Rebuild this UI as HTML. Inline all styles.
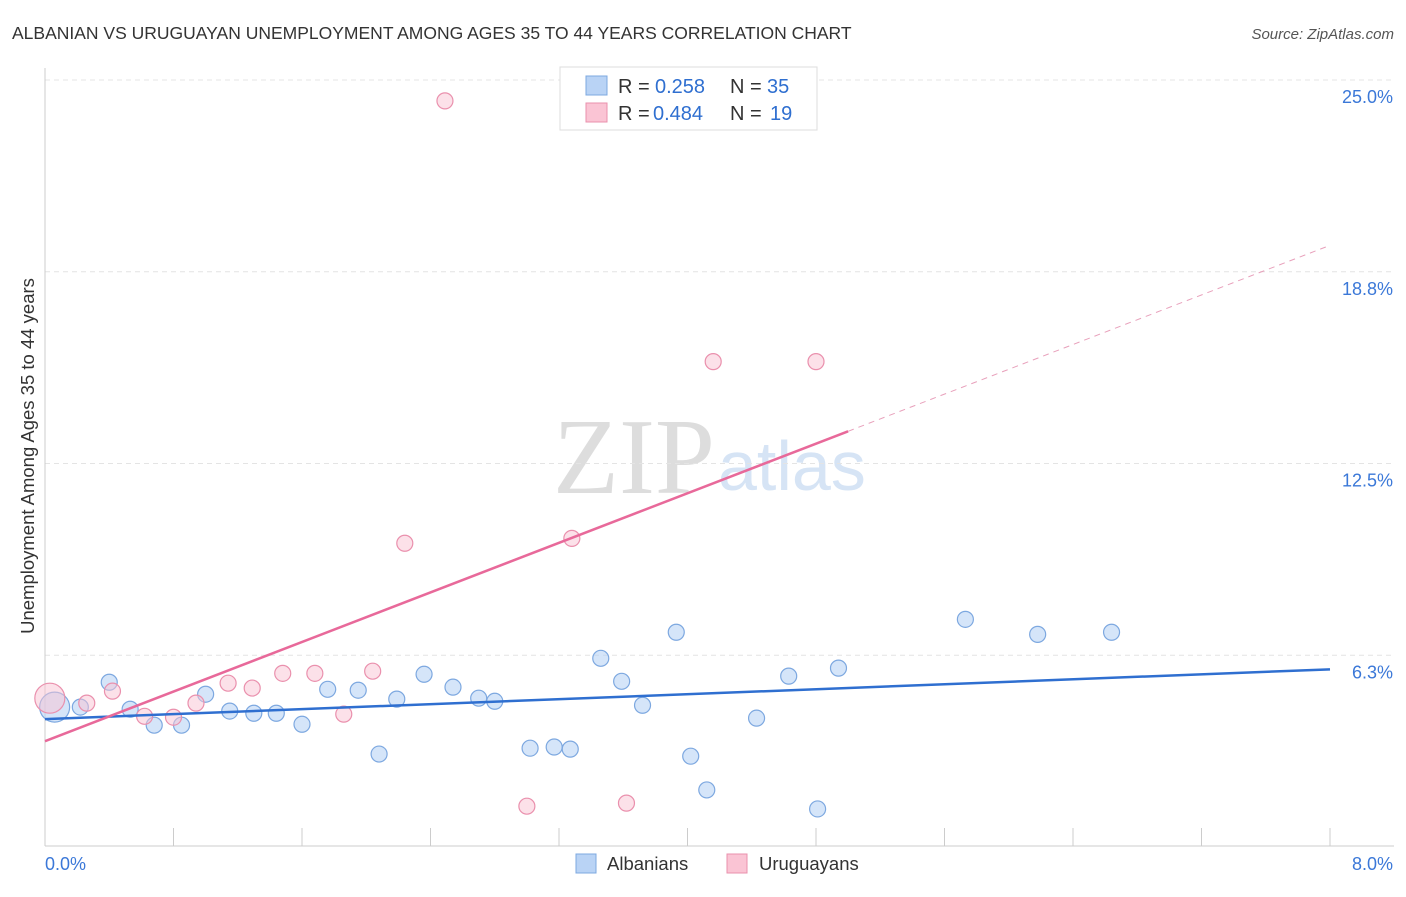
<!DOCTYPE html>
<html><head><meta charset="utf-8"><style>
body{margin:0;background:#fff;font-family:"Liberation Sans",sans-serif;}
svg text{font-family:"Liberation Sans",sans-serif;}
</style></head><body>
<svg id="chart" width="1406" height="892" xmlns="http://www.w3.org/2000/svg">
<text x="12" y="39" font-size="17.5" fill="#333">ALBANIAN VS URUGUAYAN UNEMPLOYMENT AMONG AGES 35 TO 44 YEARS CORRELATION CHART</text>
<text x="1394" y="39" font-size="15" fill="#555" text-anchor="end" font-style="italic">Source: ZipAtlas.com</text>
<text x="553" y="493" font-size="108" fill="#ddd" style="font-family:'Liberation Serif',serif">ZIP</text>
<text x="718" y="490" font-size="70" fill="#d6e4f5">atlas</text>
<g id="grid"></g>
<g id="axes"></g>
<g id="marks"></g>
<text transform="translate(34,456) rotate(-90)" font-size="18.5" fill="#333" text-anchor="middle">Unemployment Among Ages 35 to 44 years</text>
<g>
<rect x="560" y="67" width="257" height="63" fill="#fff" stroke="#ddd"/>
<rect x="586" y="76" width="21" height="19" fill="#b9d3f5" stroke="#7da8e0"/>
<rect x="586" y="103" width="21" height="19" fill="#fac4d4" stroke="#ea90ad"/>
<text x="618" y="93" font-size="20" fill="#333">R =</text>
<text x="655" y="93" font-size="20" fill="#2f6fd0">0.258</text>
<text x="730" y="93" font-size="20" fill="#333">N =</text>
<text x="767" y="93" font-size="20" fill="#2f6fd0">35</text>
<text x="618" y="120" font-size="20" fill="#333">R =</text>
<text x="653" y="120" font-size="20" fill="#2f6fd0">0.484</text>
<text x="730" y="120" font-size="20" fill="#333">N =</text>
<text x="770" y="120" font-size="20" fill="#2f6fd0">19</text>
</g>
<g>
<rect x="576" y="854" width="20" height="19" fill="#b9d3f5" stroke="#7da8e0"/>
<text x="607" y="870" font-size="18.5" fill="#333">Albanians</text>
<rect x="727" y="854" width="20" height="19" fill="#fac4d4" stroke="#ea90ad"/>
<text x="759" y="870" font-size="18.5" fill="#333">Uruguayans</text>
</g>
</svg>
<script>
const yTicks=[6.25,12.5,18.75,25];
const yTickLabels=["6.3%","12.5%","18.8%","25.0%"];
const xTickLabels=["0.0%","8.0%"];
const albX=[0.06,0.22,0.40,0.53,0.68,0.85,1.00,1.15,1.30,1.44,1.60,1.76,1.95,2.08,2.19,2.36,2.54,2.70,2.80,3.02,3.17,3.27,3.46,3.59,3.72,3.93,4.02,4.12,4.43,4.63,4.81,4.94,5.73,6.18,6.64];
const albY=[4.56,4.56,5.37,4.49,3.97,3.97,4.98,4.43,4.36,4.36,4.00,5.14,5.11,3.03,4.82,5.63,5.21,4.85,4.75,3.22,3.26,3.19,6.15,5.40,4.62,7.00,2.96,1.86,4.20,5.57,1.24,5.83,7.42,6.93,7.00];
const uruX=[0.03,0.26,0.42,0.62,0.80,0.94,1.14,1.29,1.48,1.68,1.86,2.04,2.24,2.49,3.00,3.28,3.62,4.16,4.80];
const uruY=[4.85,4.69,5.08,4.26,4.23,4.69,5.34,5.18,5.66,5.66,4.33,5.73,9.90,24.32,1.33,10.06,1.43,15.82,15.82];
const albLine=[4.17,5.79];
const uruLine=[3.45,2.02];
const NS="http://www.w3.org/2000/svg";
const X=v=>45+v/8*1285, Y=v=>847-v/25*767;
function mk(t,a,p){const e=document.createElementNS(NS,t);for(const k in a)e.setAttribute(k,a[k]);p.appendChild(e);return e;}
const grid=document.getElementById('grid'),axes=document.getElementById('axes'),marks=document.getElementById('marks');
yTicks.forEach((t,i)=>{
 const l=mk('line',{x1:45,x2:1394,y1:Y(t),y2:Y(t),stroke:'#e4e4e4','stroke-dasharray':'5,4'},grid);
 
 
 const tx=mk('text',{x:1393,y:Y(t)+23,'font-size':18,fill:'#3b78d8','text-anchor':'end'},axes);
 tx.textContent=yTickLabels[i];
 
 
});
mk('line',{x1:45,x2:45,y1:68,y2:846,stroke:'#ccc'},axes);
mk('line',{x1:45,x2:1394,y1:846,y2:846,stroke:'#ccc'},axes);
for(let i=0;i<=10;i++){const x=X(i*0.8);mk('line',{x1:x,x2:x,y1:828,y2:846,stroke:'#ccc'},axes);}
[[0,45,'start'],[1,1393,'end']].forEach(([i,x,a])=>{const t=mk('text',{x:x,y:870,'font-size':18,fill:'#3b78d8','text-anchor':a},axes);t.textContent=xTickLabels[i];
 
 });
albX.forEach((v,i)=>{const c=mk('circle',{cx:X(v),cy:Y(albY[i]),r:i==0?15:8,fill:'#b9d3f5','fill-opacity':0.6,stroke:'#7da8e0','stroke-width':1.2},marks);
 
 });
uruX.forEach((v,i)=>{const c=mk('circle',{cx:X(v),cy:Y(uruY[i]),r:i==0?15:8,fill:'#fac4d4','fill-opacity':0.5,stroke:'#ea90ad','stroke-width':1.2},marks);
 
 });
const bl=mk('line',{x1:X(0),y1:Y(albLine[0]),x2:X(8),y2:Y(albLine[1]),stroke:'#2f6fd0','stroke-width':2.5},marks);


const pl=mk('line',{x1:X(0),y1:Y(uruLine[0]),x2:X(5),y2:Y(uruLine[0]+uruLine[1]*5),stroke:'#e8699a','stroke-width':2.5},marks);


const pd=mk('line',{x1:X(5),y1:Y(uruLine[0]+uruLine[1]*5),x2:X(8),y2:Y(uruLine[0]+uruLine[1]*8),stroke:'#e8a0bb','stroke-width':1,'stroke-dasharray':'6,5'},marks);


</script>
</body></html>
